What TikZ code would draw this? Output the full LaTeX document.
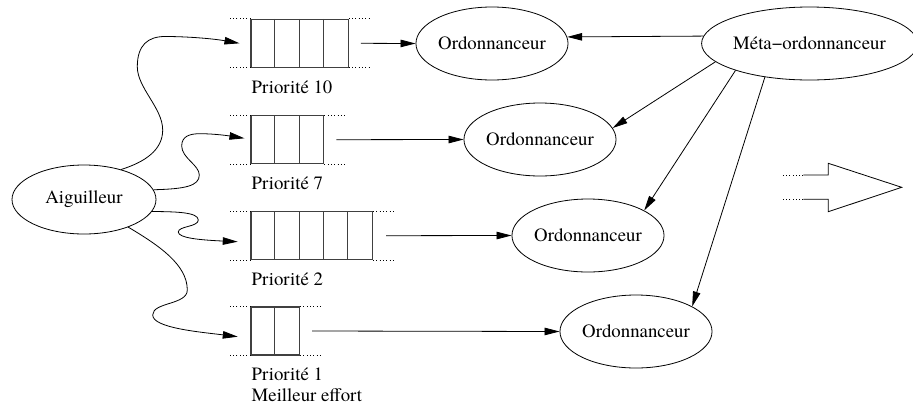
\documentclass[tikz,border=0pt]{standalone}
\usepackage{fontspec}
\setmainfont{TeX Gyre Termes}
\usetikzlibrary{shapes.geometric,arrows.meta,calc}
\tikzset{
  ell/.style={ellipse, draw, line width=0.8pt, inner sep=0pt, minimum width=144pt, minimum height=73pt, font=\fontsize{18.8}{22}\selectfont},
  qbox/.style={rectangle, draw=black!75, line width=1.1pt, inner sep=0pt, minimum height=48pt},
  cell/.style={draw=black!75, line width=1.1pt},
  dotline/.style={line width=0.8pt, dash pattern=on 0.9pt off 2.4pt},
  lbl/.style={anchor=west, inner sep=0pt, font=\fontsize{18.8}{22}\selectfont},
  arr/.style={line width=0.8pt, -{Triangle[length=15pt,width=7.5pt]}},
  wire/.style={line width=0.8pt}
}
\begin{document}
\begin{tikzpicture}[x=1pt,y=-1pt]
\useasboundingbox (0,0) rectangle (913,405);

% queues
\node[qbox, minimum width=97.2pt] (q10) at (299.6,43.3) {};
\node[qbox, minimum width=72.9pt] (q7) at (287.45,139.7) {};
\node[qbox, minimum width=121.5pt] (q2) at (311.75,235.7) {};
\node[qbox, minimum width=48.6pt] (q1) at (275.3,331) {};

\foreach \q/\n in {q10/3, q7/2, q2/4, q1/1}{
  \foreach \i in {1,...,\n}{
    \draw[cell] ($(\q.north west)+(\i*24.3,0)$) -- ($(\q.south west)+(\i*24.3,0)$);
  }
  \draw[dotline] (\q.north west) -- ++(-21,0);
  \draw[dotline] (\q.south west) -- ++(-21,0);
  \draw[dotline] (\q.north east) -- ++(23,0);
  \draw[dotline] (\q.south east) -- ++(23,0);
}

% labels
\node[lbl] (l10) at (251.5,87) {Priorité 10};
\node[lbl] (l7) at (251.5,183) {Priorité 7};
\node[lbl] (l2) at (251.5,279) {Priorité 2};
\node[lbl] (l1) at (251.5,374) {Priorité 1};
\node[lbl] (l1b) at (251.5,395.5) {Meilleur effort};

% ellipses
\node[ell, minimum height=69pt] (aig) at (84,199.5) {Aiguilleur};
\node[ell] (o1) at (492,43.5) {Ordonnanceur};
\node[ell] (o2) at (540,139.5) {Ordonnanceur};
\node[ell] (o3) at (588,235.5) {Ordonnanceur};
\node[ell] (o4) at (636,331.5) {Ordonnanceur};
\node[ell, minimum width=206pt] (meta) at (809.5,43.5) {Méta−ordonnanceur};

% queue -> scheduler
\draw[arr] ($(q10.east)+(12,0)$) -- (o1.west);
\draw[arr] ($(q7.east)+(12,0)$) -- (o2.west);
\draw[arr] ($(q2.east)+(13,0)$) -- (o3.west);
\draw[arr] ($(q1.east)+(12,0)$) -- (o4.west);

% meta -> schedulers
\draw[arr] (meta.176.3) -- (o1.5.25);
\draw[arr] (meta.191.4) -- (o2.9.7);
\draw[arr] (meta.200.2) -- (o3.24.9);
\draw[arr] (meta.217.2) -- (o4.24.4);

% dispatcher curves
\coordinate (t10) at ($(q10.west)+(-11,0)$);
\coordinate (t7) at ($(q7.west)+(-6,-1.4)$);
\coordinate (t2) at ($(q2.west)+(-12.7,6)$);
\coordinate (t1) at ($(q1.west)+(-12.7,5.7)$);

\draw[arr] (aig.39.6) .. controls (145,162) and (162.7,150) .. (162.7,130)
  .. controls (162.7,108) and (137.3,88) .. (137.3,66.7)
  .. controls (137.3,45) and (148,36.5) .. (165,36.5)
  .. controls (190,36.5) and (215,39) .. (t10);

\draw[arr] (aig.8.8) .. controls (185,189) and (199.3,186) .. (199.3,175)
  .. controls (199.3,165) and (181.7,158) .. (181.7,146)
  .. controls (181.7,136) and (190,133.7) .. (200,133.7)
  .. controls (215,133.7) and (230,136) .. (t7);

\draw[arr] (aig.350) .. controls (175,211.7) and (198.3,212) .. (198.3,220)
  .. controls (198.3,227) and (178.3,226) .. (178.3,232)
  .. controls (178.3,238) and (200,240) .. (t2);

\draw[arr] (aig.328.3) .. controls (160,246) and (187.3,265) .. (187.3,290)
  .. controls (187.3,305) and (152.7,302) .. (152.7,315)
  .. controls (152.7,328) and (200,332) .. (t1);

% big arrow on the right
\draw[wire] (803.3,175) -- (828.3,175) -- (828.3,163.3) -- (901.7,187.3) -- (828.3,211.7) -- (828.3,199.3) -- (803.3,199.3);
\draw[dotline] (803.3,175) -- (781.7,175);
\draw[dotline] (803.3,199.3) -- (781.7,199.3);
\end{tikzpicture}
\end{document}
